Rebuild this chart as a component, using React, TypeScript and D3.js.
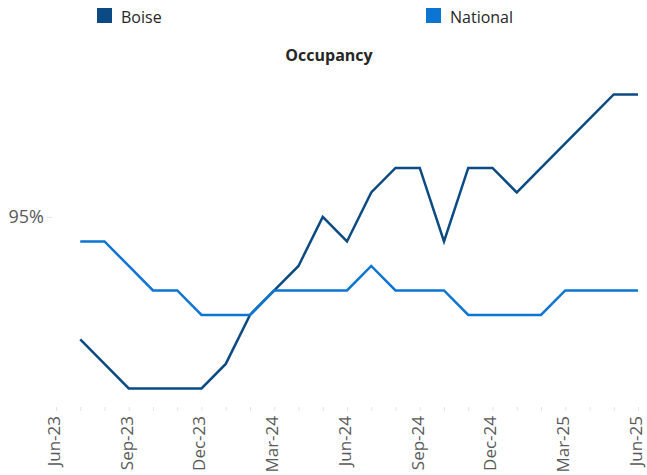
import { useEffect, useRef } from "react";
import * as d3 from "d3";

// month labels on the axis, Jun-23 .. Jun-25
const months = [
  "Jun-23", "Jul-23", "Aug-23", "Sep-23", "Oct-23", "Nov-23", "Dec-23",
  "Jan-24", "Feb-24", "Mar-24", "Apr-24", "May-24", "Jun-24", "Jul-24",
  "Aug-24", "Sep-24", "Oct-24", "Nov-24", "Dec-24", "Jan-25", "Feb-25",
  "Mar-25", "Apr-25", "May-25", "Jun-25",
];

// occupancy in %, no value for Jun-23
const boise: (number | null)[] = [
  null, 92.5, 92.0, 91.5, 91.5, 91.5, 91.5, 92.0, 93.0, 93.5, 94.0, 95.0,
  94.5, 95.5, 96.0, 96.0, 94.5, 96.0, 96.0, 95.5, 96.0, 96.5, 97.0, 97.5, 97.5,
];
const national: (number | null)[] = [
  null, 94.5, 94.5, 94.0, 93.5, 93.5, 93.0, 93.0, 93.0, 93.5, 93.5, 93.5,
  93.5, 94.0, 93.5, 93.5, 93.5, 93.0, 93.0, 93.0, 93.0, 93.5, 93.5, 93.5, 93.5,
];

const yTicks = [95];

const series = [
  { name: "Boise", values: boise, color: "#0B4A82" },
  { name: "National", values: national, color: "#0C74D1" },
];

export default function App() {
  const ref = useRef<SVGSVGElement | null>(null);

  useEffect(() => {
    const svg = d3.select(ref.current);
    svg.selectAll("*").remove();

    const x = d3.scalePoint<string>().domain(months).range([56, 638]);
    const y = d3.scaleLinear().domain([91.1, 98]).range([408, 70]);

    // legend
    const legendX = [97, 426];
    series.forEach((s, i) => {
      const g = svg.append("g").attr("transform", `translate(${legendX[i]},8)`);
      g.append("rect").attr("width", 15).attr("height", 15).attr("fill", s.color);
      g.append("text")
        .attr("x", 24)
        .attr("y", 14.5)
        .attr("font-family", "'Open Sans', sans-serif")
        .attr("font-size", 16)
        .attr("fill", "#262626")
        .text(s.name);
    });

    svg
      .append("text")
      .attr("x", 329)
      .attr("y", 61)
      .attr("text-anchor", "middle")
      .attr("font-family", "'Open Sans', sans-serif")
      .attr("font-weight", "bold")
      .attr("font-size", 16)
      .attr("fill", "#262626")
      .text("Occupancy");

    // x axis
    const xAxis = svg
      .append("g")
      .attr("transform", "translate(0,407)")
      .call(
        d3
          .axisBottom(x)
          .tickSize(4)
          .tickFormat((d, i) => (i % 3 === 0 ? d : ""))
      );
    xAxis.select(".domain").remove();
    xAxis.selectAll(".tick line").attr("stroke", "#e3e3e3");
    xAxis
      .selectAll(".tick text")
      .attr("transform", "rotate(-90)")
      .attr("x", -9)
      .attr("y", 0)
      .attr("dy", "0.2em")
      .attr("text-anchor", "end")
      .attr("font-family", "'Open Sans', sans-serif")
      .attr("font-size", 17)
      .attr("fill", "#595959");

    // y axis, only the 95% tick
    const yAxis = svg
      .append("g")
      .attr("transform", "translate(52,0)")
      .call(
        d3
          .axisLeft(y)
          .tickValues(yTicks)
          .tickSize(5)
          .tickPadding(3)
          .tickFormat((d) => `${d}%`)
      );
    yAxis.select(".domain").remove();
    yAxis.selectAll(".tick line").attr("stroke", "#e3e3e3");
    yAxis
      .selectAll(".tick text")
      .attr("font-family", "'Open Sans', sans-serif")
      .attr("font-size", 18)
      .attr("fill", "#595959");

    const line = d3
      .line<number | null>()
      .defined((d) => d !== null)
      .x((_, i) => x(months[i]) as number)
      .y((d) => y(d as number));

    series.forEach((s) => {
      svg
        .append("path")
        .datum(s.values)
        .attr("fill", "none")
        .attr("stroke", s.color)
        .attr("stroke-width", 2.5)
        .attr("d", line);
    });
  }, []);

  return (
    <svg
      ref={ref}
      width={647}
      height={475}
      style={{ position: "absolute", left: 0, top: 0, background: "#fff" }}
    ></svg>
  );
}
